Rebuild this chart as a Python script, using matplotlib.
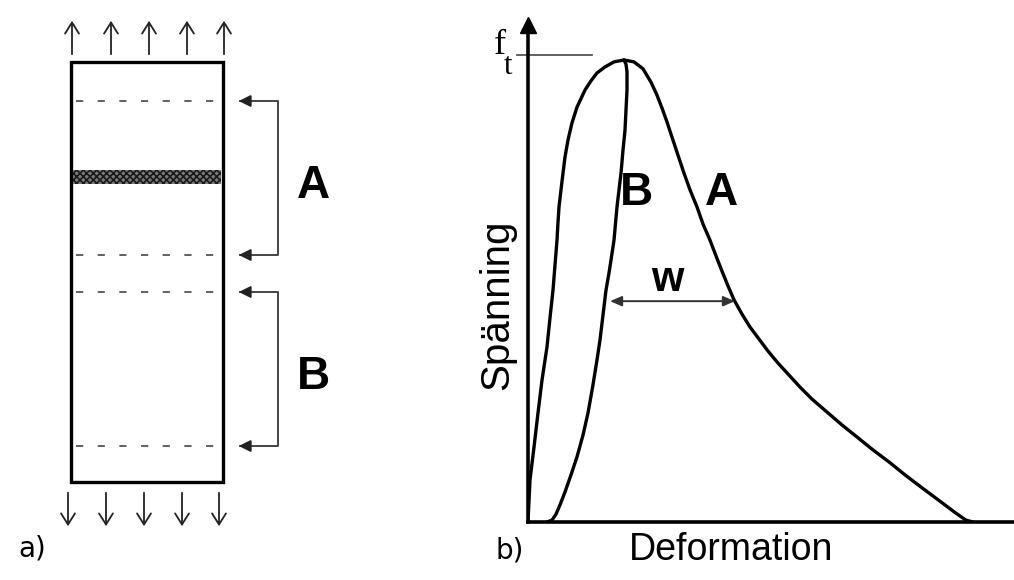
import matplotlib.pyplot as plt
from matplotlib.patches import Rectangle

plt.rcParams['font.family'] = ['Liberation Sans', 'DejaVu Sans']
plt.rcParams['hatch.linewidth'] = 1.2

# --- b) stress-deformation curves (deformation units, stress / ft) ---
rise_def = [0, 0.02, 0.06, 0.10, 0.14, 0.19, 0.22, 0.25, 0.27, 0.29, 0.30, 0.31,
            0.33, 0.35, 0.37, 0.40, 0.44, 0.49, 0.57, 0.63, 0.69, 0.77, 0.86, 0.96]
rise_stress = [0, 0.091, 0.162, 0.236, 0.307, 0.379, 0.442, 0.502, 0.556, 0.610,
               0.649, 0.682, 0.719, 0.755, 0.790, 0.827, 0.864, 0.898, 0.935,
               0.955, 0.972, 0.985, 0.996, 1.0]

b_def = [0.96, 0.98, 0.99, 0.99, 0.98, 0.97, 0.95, 0.93, 0.91, 0.89, 0.86, 0.83,
         0.81, 0.78, 0.75, 0.72, 0.69, 0.65, 0.60, 0.55, 0.49, 0.43, 0.37, 0.32,
         0.28, 0.24, 0.19]
b_stress = [1.0, 0.991, 0.974, 0.935, 0.892, 0.848, 0.805, 0.755, 0.719, 0.682,
            0.610, 0.567, 0.539, 0.502, 0.448, 0.394, 0.351, 0.297, 0.236, 0.188,
            0.141, 0.102, 0.065, 0.037, 0.017, 0.004, 0.0]

a_def = [0.96, 1.06, 1.15, 1.23, 1.29, 1.34, 1.39, 1.44, 1.50, 1.56, 1.62, 1.69,
         1.75, 1.82, 1.88, 1.94, 2.00, 2.06, 2.14, 2.22, 2.31, 2.40, 2.50, 2.61,
         2.72, 2.84, 2.99, 3.14, 3.29, 3.45, 3.61, 3.77, 3.94, 4.12, 4.28, 4.38,
         4.45]
a_stress = [1.0, 0.996, 0.981, 0.952, 0.924, 0.896, 0.866, 0.833, 0.794, 0.755,
            0.719, 0.682, 0.645, 0.610, 0.576, 0.543, 0.511, 0.481, 0.450, 0.422,
            0.396, 0.370, 0.344, 0.318, 0.292, 0.266, 0.238, 0.210, 0.184, 0.156,
            0.130, 0.102, 0.074, 0.045, 0.019, 0.004, 0.0]

ft_level = 1.01
w_level = 0.478
w_span = [0.82, 2.07]

# --- a) specimen sketch (pixel positions) ---
up_arrow_x = [72, 111, 149, 187, 224]
down_arrow_x = [68, 106, 144, 182, 219]
dash_y = [101, 255, 292, 446]
brackets = [(101, 255, "A"), (292, 446, "B")]

fig = plt.figure(figsize=(10.14, 5.8), dpi=100)
bg = fig.add_axes([0, 0, 1, 1])
bg.set_xlim(0, 1014)
bg.set_ylim(580, 0)
bg.axis("off")

# specimen
bg.add_patch(Rectangle((71, 62), 152, 420, fill=False, lw=2.4, ec="black"))
bg.add_patch(Rectangle((73, 170), 148, 14, fc="#7a7a7a", ec="#1a1a1a",
                       hatch="xxxxx", lw=0))
for y in dash_y:
    bg.plot([76, 220], [y, y], color="#555555", lw=1.3, ls=(0, (4, 8)))

thin_arrow = dict(arrowstyle="->,head_length=0.8,head_width=0.5",
                  lw=1.3, color="#222222")
for x in up_arrow_x:
    bg.annotate("", xy=(x, 18), xytext=(x, 57), arrowprops=thin_arrow)
for x in down_arrow_x:
    bg.annotate("", xy=(x, 529), xytext=(x, 490), arrowprops=thin_arrow)

for y0, y1, lab in brackets:
    bg.plot([240, 278, 278, 240], [y0, y0, y1, y1], color="#444444", lw=1.4)
    for y in (y0, y1):
        bg.annotate("", xy=(236, y), xytext=(250, y),
                    arrowprops=dict(arrowstyle="-|>,head_length=0.7,head_width=0.35",
                                    lw=1.4, color="#222222"))
    bg.text(313, (y0 + y1) / 2 + 8, lab, fontsize=33, fontweight="bold",
            ha="center", va="center")

bg.text(18, 548, "a)", fontsize=20, family="DejaVu Sans", va="center")
bg.text(495, 550, "b)", fontsize=20, family="DejaVu Sans", va="center")

# stress-deformation diagram
ax = fig.add_axes([528 / 1014, 58 / 580, 486 / 1014, 497 / 580])
ax.patch.set_alpha(0)
ax.set_xlim(0, 4.86)
ax.set_ylim(0, 1.0758)
for s in ("top", "right"):
    ax.spines[s].set_visible(False)
for s in ("left", "bottom"):
    ax.spines[s].set_linewidth(2.6)
ax.set_xticks([])
ax.set_yticks([])
ax.plot([0], [1.0758], marker="^", ms=11, color="black", clip_on=False)

for xs, ys in [(rise_def, rise_stress), (b_def, b_stress), (a_def, a_stress)]:
    ax.plot(xs, ys, color="black", lw=2.4, solid_capstyle="round",
            solid_joinstyle="round")

ax.plot([-0.11, 0.64], [ft_level, ft_level], color="#555555", lw=1.3, clip_on=False)
ax.annotate("", xy=(w_span[0], w_level), xytext=(w_span[1], w_level),
            arrowprops=dict(arrowstyle="<|-|>,head_length=0.7,head_width=0.3",
                            lw=1.4, color="#333333", shrinkA=0, shrinkB=0))

bg.text(500, 45, "f", fontsize=26, family="Liberation Serif", ha="center", va="center")
bg.text(508, 67, "t", fontsize=22, family="Liberation Serif", ha="center", va="center")
bg.text(636, 193, "B", fontsize=33, fontweight="bold", ha="center", va="center")
bg.text(721, 193, "A", fontsize=33, fontweight="bold", ha="center", va="center")
bg.text(667, 280, "w", fontsize=30, fontweight="bold", ha="center", va="center")
bg.text(497, 305, "Spänning", fontsize=29, rotation=90, ha="center", va="center")
bg.text(731, 550, "Deformation", fontsize=27, ha="center", va="center")

fig.savefig("out.png", dpi=100)
